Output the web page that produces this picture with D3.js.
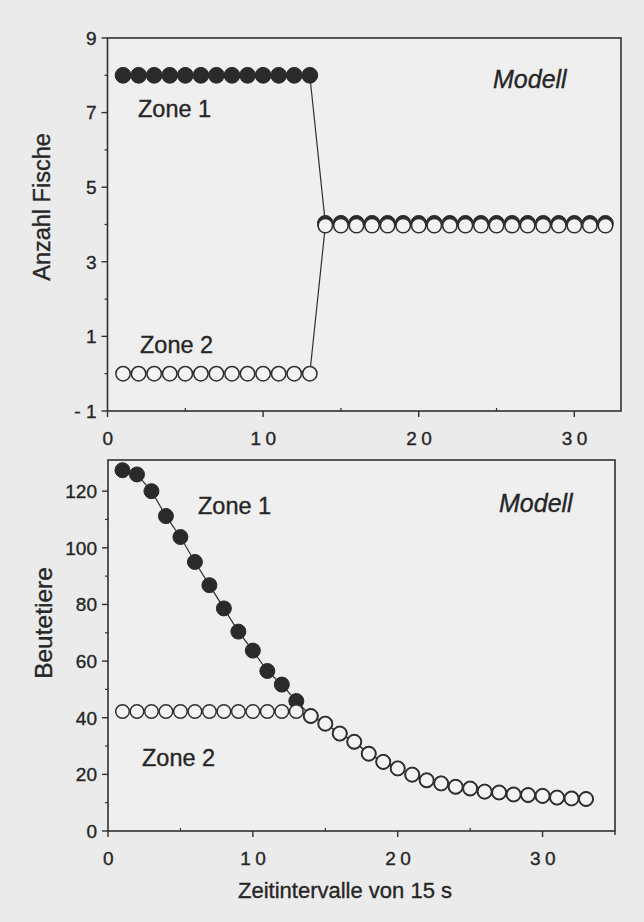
<!DOCTYPE html>
<html>
<head>
<meta charset="utf-8">
<script src="https://cdn.jsdelivr.net/npm/d3@7"></script>
<style>
  html, body { margin: 0; padding: 0; background: #ebebeb; }
  svg { display: block; font-family: "Liberation Sans", Arial, sans-serif; }
  text { fill: #262626; stroke: #262626; stroke-width: 0.35px; }
</style>
</head>
<body>
<div id="chart"></div>
<script>
// top panel: number of fish per zone
var fishX = [1,2,3,4,5,6,7,8,9,10,11,12,13,14,15,16,17,18,19,20,21,22,23,24,25,26,27,28,29,30,31,32];
var fishZone1 = [8,8,8,8,8,8,8,8,8,8,8,8,8,4.03,4.03,4.03,4.03,4.03,4.03,4.03,4.03,4.03,4.03,4.03,4.03,4.03,4.03,4.03,4.03,4.03,4.03,4.03];
var fishZone2 = [0,0,0,0,0,0,0,0,0,0,0,0,0,3.97,3.97,3.97,3.97,3.97,3.97,3.97,3.97,3.97,3.97,3.97,3.97,3.97,3.97,3.97,3.97,3.97,3.97,3.97];
var fishTicksY = [9, 7, 5, 3, 1, -1];
var fishMinorY = [8, 6, 4, 2, 0];

// bottom panel: prey per zone
var preyX = [1,2,3,4,5,6,7,8,9,10,11,12,13,14,15,16,17,18,19,20,21,22,23,24,25,26,27,28,29,30,31,32,33];
var preyZone1 = [127.4,125.9,120,111.2,103.8,95,86.8,78.6,70.4,63.7,56.5,51.7,45.9,40.6,37.9,34.4,31.5,27.3,24.4,22.1,19.9,17.9,16.8,15.6,15.0,13.9,13.6,12.9,12.7,12.4,11.8,11.5,11.3];
var preyZone2 = [42.2,42.2,42.2,42.2,42.2,42.2,42.2,42.2,42.2,42.2,42.2,42.2,42.2,40.6,37.9,34.4,31.5,27.3,24.4,22.1,19.9,17.9,16.8,15.6,15.0,13.9,13.6,12.9,12.7,12.4,11.8,11.5,11.3];
var preyTicksY = [0, 20, 40, 60, 80, 100, 120];
var preyMinorY = [10, 30, 50, 70, 90, 110];

var xTicks = [0, 10, 20, 30];
var xMinor = [5, 15, 25];

var width = 644, height = 922;
var ink = "#303030";

var svg = d3.select("#chart").append("svg")
    .attr("width", width)
    .attr("height", height);

svg.append("rect").attr("width", width).attr("height", height).attr("fill", "#ebebeb");

function panel(opt) {
  var x = d3.scaleLinear().domain(opt.xDomain).range(opt.xRange);
  var y = d3.scaleLinear().domain(opt.yDomain).range(opt.yRange);
  var g = svg.append("g");

  // plot area + frame
  g.append("rect")
    .attr("x", opt.xRange[0]).attr("y", opt.yRange[1])
    .attr("width", opt.xRange[1] - opt.xRange[0])
    .attr("height", opt.yRange[0] - opt.yRange[1])
    .attr("fill", "#efefef").attr("stroke", ink).attr("stroke-width", 1.6);

  if (opt.extraTick) {
    g.append("line")
      .attr("x1", opt.xRange[1]).attr("x2", opt.xRange[1])
      .attr("y1", opt.yRange[0]).attr("y2", opt.yRange[0] + 4)
      .attr("stroke", ink).attr("stroke-width", 1.4);
  }

  // y ticks
  g.selectAll(".yt").data(opt.yTicks).join("line")
    .attr("x1", opt.xRange[0] - 6).attr("x2", opt.xRange[0])
    .attr("y1", d => y(d)).attr("y2", d => y(d))
    .attr("stroke", ink).attr("stroke-width", 1.4);
  g.selectAll(".ym").data(opt.yMinor).join("line")
    .attr("x1", opt.xRange[0] - 3).attr("x2", opt.xRange[0])
    .attr("y1", d => y(d)).attr("y2", d => y(d))
    .attr("stroke", ink).attr("stroke-width", 1.2);
  g.selectAll(".yl").data(opt.yTicks).join("text")
    .attr("x", opt.xRange[0] - 11)
    .attr("y", d => y(d))
    .attr("dy", "0.36em")
    .attr("text-anchor", "end")
    .attr("font-size", 19)
    .text(d => d < 0 ? "- " + Math.abs(d) : d);

  // x ticks
  g.selectAll(".xt").data(xTicks).join("line")
    .attr("x1", d => x(d)).attr("x2", d => x(d))
    .attr("y1", opt.yRange[0]).attr("y2", opt.yRange[0] + 6)
    .attr("stroke", ink).attr("stroke-width", 1.4);
  g.selectAll(".xm").data(xMinor).join("line")
    .attr("x1", d => x(d)).attr("x2", d => x(d))
    .attr("y1", opt.yRange[0] - 3).attr("y2", opt.yRange[0])
    .attr("stroke", ink).attr("stroke-width", 1.2);
  g.selectAll(".xl").data(xTicks).join("text")
    .attr("x", d => x(d) + 2.5)
    .attr("y", opt.yRange[0] + 34)
    .attr("text-anchor", "middle")
    .attr("font-size", 19)
    .attr("letter-spacing", 4.5)
    .text(d => d);

  var line = d3.line().x((d, i) => x(opt.xs[i])).y(d => y(d));

  // zone 1 (filled), drawn first
  g.append("path").attr("d", line(opt.z1))
    .attr("fill", "none").attr("stroke", ink).attr("stroke-width", 1.2);
  g.selectAll(".z1").data(opt.z1).join("circle")
    .attr("cx", (d, i) => x(opt.xs[i])).attr("cy", d => y(d))
    .attr("r", opt.r).attr("fill", "#2a2a2a").attr("stroke", "#2a2a2a").attr("stroke-width", 1);

  // zone 2 (open), on top
  g.append("path").attr("d", line(opt.z2))
    .attr("fill", "none").attr("stroke", ink).attr("stroke-width", 1.2);
  g.selectAll(".z2").data(opt.z2).join("circle")
    .attr("cx", (d, i) => x(opt.xs[i])).attr("cy", d => y(d))
    .attr("r", opt.r - 0.7).attr("fill", "#f3f3f3").attr("stroke", ink).attr("stroke-width", 1.5);

  return g;
}

panel({
  xDomain: [0, 33], xRange: [107.5, 621],
  yDomain: [-1, 9], yRange: [411, 38],
  yTicks: fishTicksY, yMinor: fishMinorY,
  xs: fishX, z1: fishZone1, z2: fishZone2,
  r: 7.9
});

panel({
  xDomain: [0, 35], xRange: [108, 615],
  yDomain: [0, 131], yRange: [831, 460],
  yTicks: preyTicksY, yMinor: preyMinorY,
  xs: preyX, z1: preyZone1, z2: preyZone2,
  r: 7.5, extraTick: true
});

// labels
function label(txt, x, y, size, opts) {
  opts = opts || {};
  var t = svg.append("text")
    .attr("x", x).attr("y", y)
    .attr("font-size", size)
    .text(txt);
  if (opts.italic) t.attr("font-style", "italic");
  if (opts.anchor) t.attr("text-anchor", opts.anchor);
  if (opts.rotate) t.attr("transform", "rotate(-90," + x + "," + y + ")");
  return t;
}

label("Zone 1", 138, 117, 23.5);
label("Zone 2", 140, 353, 23.5);
label("Modell", 493, 88, 25, {italic: true});
label("Zone 1", 198, 514, 23.5);
label("Zone 2", 142, 766, 23.5);
label("Modell", 499, 512, 25, {italic: true});

label("Anzahl Fische", 50, 207, 23.5, {anchor: "middle", rotate: true});
label("Beutetiere", 52, 623, 24.5, {anchor: "middle", rotate: true});
label("Zeitintervalle von 15 s", 345, 898, 22, {anchor: "middle"});
</script>
</body>
</html>
